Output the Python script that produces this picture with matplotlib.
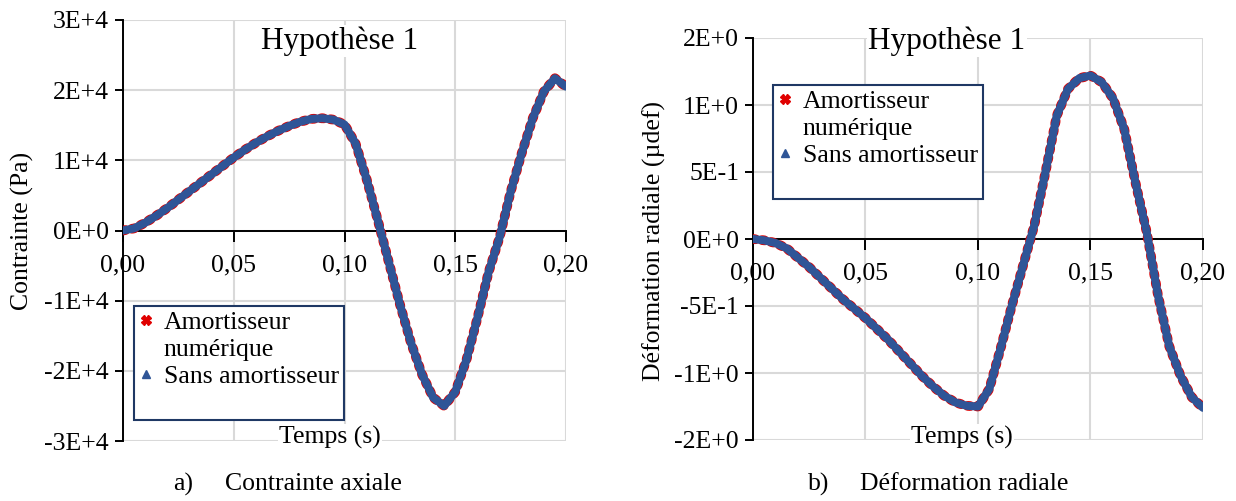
import matplotlib
matplotlib.use("Agg")
import matplotlib.pyplot as plt
from matplotlib.lines import Line2D

plt.rcParams['font.family'] = ['Liberation Serif', 'DejaVu Serif']

# time (s)
t = [0.000, 0.005, 0.010, 0.015, 0.020, 0.025, 0.030, 0.035, 0.040, 0.045,
     0.050, 0.055, 0.060, 0.065, 0.070, 0.075, 0.080, 0.085, 0.090, 0.095,
     0.100, 0.105, 0.110, 0.115, 0.120, 0.125, 0.130, 0.135, 0.140, 0.145,
     0.150, 0.155, 0.160, 0.165, 0.170, 0.175, 0.180, 0.185, 0.190, 0.195,
     0.200]

# a) contrainte axiale (Pa)
stress_amort = [0, 300, 1100, 2100, 3200, 4400, 5600, 6800, 8000, 9200,
                10400, 11500, 12500, 13400, 14200, 14900, 15500, 15900, 16000, 15800,
                15100, 12400, 7300, 1500, -4500, -10500, -16000, -20500, -23800, -25000,
                -23000, -18500, -12500, -6000, -1000, 5500, 11000, 16000, 19800, 21700,
                20500]
stress_sans = list(stress_amort)   # les deux courbes se superposent

# b) deformation radiale (µdef)
strain_amort = [0.00, -0.01, -0.03, -0.07, -0.14, -0.21, -0.29, -0.37, -0.45, -0.52,
                -0.59, -0.67, -0.75, -0.84, -0.93, -1.02, -1.10, -1.17, -1.22, -1.245,
                -1.25, -1.12, -0.82, -0.50, -0.20, 0.10, 0.50, 0.92, 1.12, 1.20,
                1.22, 1.17, 1.05, 0.82, 0.42, 0.05, -0.42, -0.80, -1.02, -1.18,
                -1.26]
strain_sans = list(strain_amort)

xticks = [0.00, 0.05, 0.10, 0.15, 0.20]
stress_ticks = [-30000, -20000, -10000, 0, 10000, 20000, 30000]
strain_ticks = [-1.5, -1.0, -0.5, 0.0, 0.5, 1.0, 1.5]

lab_amort = ["Amortisseur", "numérique"]
lab_sans = "Sans amortisseur"

RED = "#e00000"
BLUE = "#2f5597"
GRID = "#d9d9d9"
FS = 18.5


def excel_sci(v, pos):
    s = f"{v:.0E}"
    m, e = s.split("E")
    e = int(e)
    return f"{m}E{'+' if e >= 0 else '-'}{abs(e)}"


def comma(v, pos):
    return f"{v:.2f}".replace(".", ",")


def setup(ax, yticks, ylabel):
    ax.set_xlim(0, 0.2)
    ax.set_ylim(yticks[0], yticks[-1])
    ax.set_xticks(xticks)
    ax.set_yticks(yticks)
    ax.xaxis.set_major_formatter(plt.FuncFormatter(comma))
    ax.yaxis.set_major_formatter(plt.FuncFormatter(excel_sci))
    ax.grid(True, color=GRID, lw=1.5, zorder=0)
    ax.set_axisbelow(True)
    for s in ["top", "right"]:
        ax.spines[s].set_visible(False)
    ax.spines["bottom"].set_position(("data", 0))
    ax.spines["bottom"].set_linewidth(1.4)
    ax.spines["left"].set_linewidth(1.4)
    ax.tick_params(axis="x", direction="out", length=8, width=1.4, pad=9, labelsize=FS)
    ax.tick_params(axis="y", direction="out", length=6, width=1.4, pad=4, labelsize=FS)
    ax.set_ylabel(ylabel, fontsize=FS)


def draw(ax, y1, y2):
    ax.plot(t, y1, color=RED, lw=7.0, ls=(0, (0.25, 0.7)), dash_capstyle="round",
            zorder=3)
    ax.plot(t, y2, color=BLUE, lw=5.8, solid_capstyle="round",
            solid_joinstyle="round", zorder=4)


def legend(ax, x, y):
    h = [Line2D([], [], ls="none", marker="X", ms=7, color=RED, mec=RED),
         Line2D([], [], ls="none"),
         Line2D([], [], ls="none", marker="^", ms=6, color=BLUE),
         Line2D([], [], ls="none")]
    leg = ax.legend(h, lab_amort + [lab_sans, " "], loc="upper left",
                    bbox_to_anchor=(x / 1236, 1 - y / 501),
                    bbox_transform=fig.transFigure, fontsize=FS,
                    frameon=True, fancybox=False, borderpad=0.2,
                    handlelength=0.5, handletextpad=0.45, labelspacing=0.15,
                    borderaxespad=0)
    leg.set_zorder(6)
    fr = leg.get_frame()
    fr.set_edgecolor("#1f3864")
    fr.set_linewidth(1.5)
    fr.set_alpha(1)


fig = plt.figure(figsize=(12.36, 5.01), dpi=100)
ax1 = fig.add_axes([123 / 1236, 1 - 441 / 501, 443 / 1236, 421 / 501])
ax2 = fig.add_axes([753 / 1236, 1 - 440 / 501, 450 / 1236, 402 / 501])

setup(ax1, stress_ticks, "Contrainte (Pa)")
draw(ax1, stress_amort, stress_sans)
legend(ax1, 134, 306)

setup(ax2, strain_ticks, "Déformation radiale (µdef)")
draw(ax2, strain_amort, strain_sans)
legend(ax2, 773, 85)

ax1.yaxis.set_label_coords(34 / 1236, 1 - 231 / 501, transform=fig.transFigure)
ax2.yaxis.set_label_coords(666 / 1236, 1 - 241 / 501, transform=fig.transFigure)

box = dict(facecolor="white", edgecolor="none", pad=1)
for ax, tx, hx in [(ax1, 340, 330), (ax2, 947, 962)]:
    ax.text(tx / 1236, 1 - 41 / 501, "Hypothèse 1", fontsize=22.5, ha="center",
            va="center", bbox=box, transform=fig.transFigure, zorder=5, clip_on=False)
    ax.text(hx / 1236, 1 - 437 / 501, "Temps (s)", fontsize=FS, ha="center",
            va="center", bbox=box, transform=fig.transFigure, zorder=5, clip_on=False)

fig.text(173 / 1236, 1 - 484 / 501, "a)", fontsize=FS, va="center")
fig.text(225 / 1236, 1 - 484 / 501, "Contrainte axiale", fontsize=FS, va="center")
fig.text(808 / 1236, 1 - 484 / 501, "b)", fontsize=FS, va="center")
fig.text(860 / 1236, 1 - 484 / 501, "Déformation radiale", fontsize=FS, va="center")

fig.savefig("out.png", dpi=100)
